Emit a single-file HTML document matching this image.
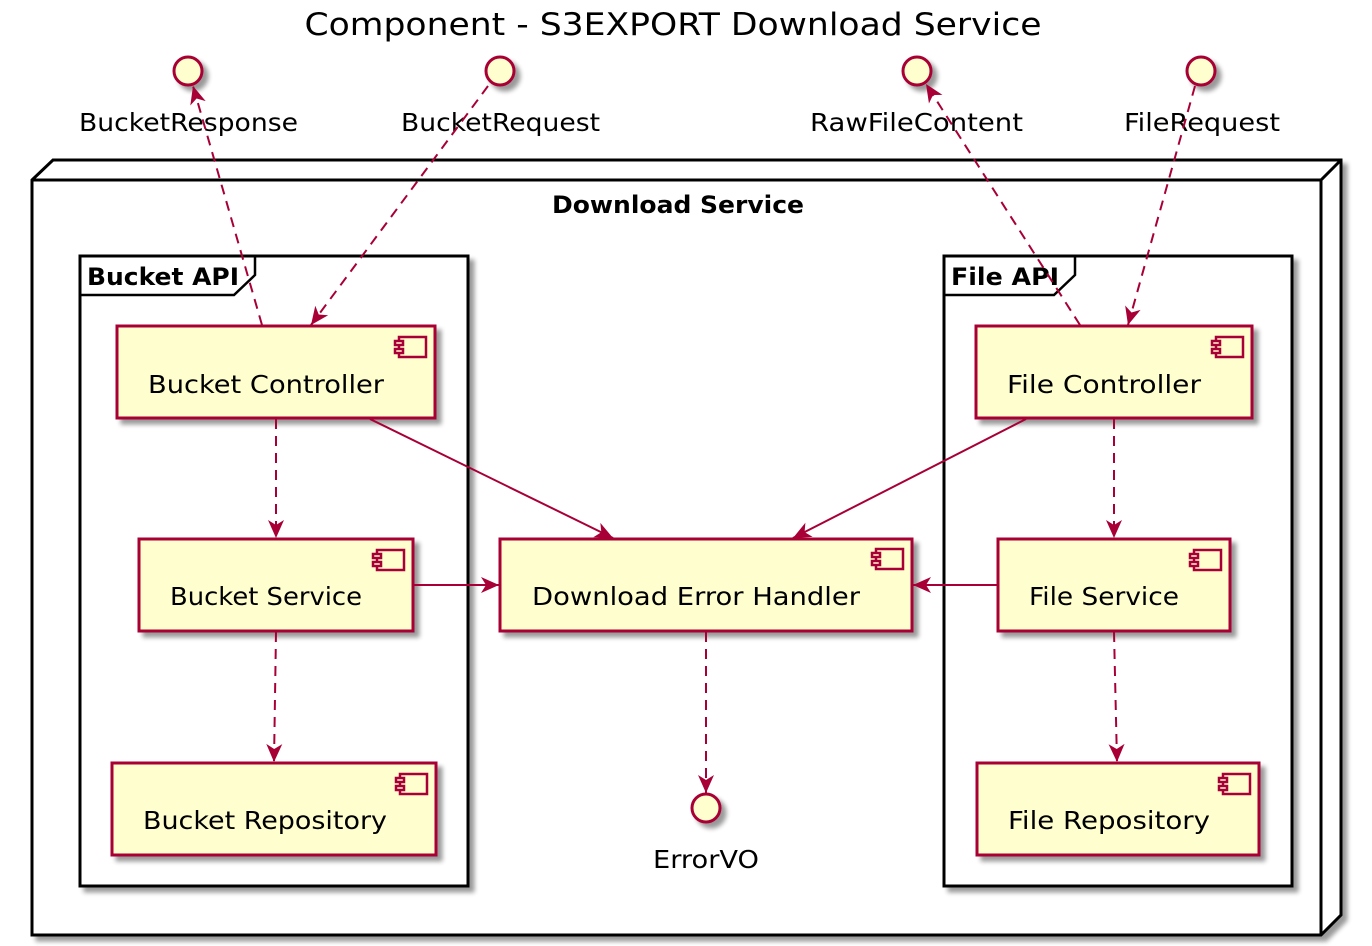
<!DOCTYPE html>
<html><head><meta charset="utf-8"><style>
html,body{margin:0;padding:0;background:#fff;width:1372px;height:946px;overflow:hidden}
svg{display:block}
text{font-family:"DejaVu Sans","Liberation Sans",sans-serif;fill:#000}
</style></head><body>
<svg width="1372" height="946" viewBox="0 0 1372 946" xmlns="http://www.w3.org/2000/svg">
<defs>
<filter id="sh" x="-10%" y="-10%" width="130%" height="130%"><feGaussianBlur in="SourceAlpha" stdDeviation="2.5"/><feOffset dx="5" dy="5"/><feComponentTransfer><feFuncA type="linear" slope="0.4"/></feComponentTransfer><feMerge><feMergeNode/><feMergeNode in="SourceGraphic"/></feMerge></filter>
<marker id="ah" viewBox="0 0 20 20" refX="18" refY="10" markerWidth="20" markerHeight="20" markerUnits="userSpaceOnUse" orient="auto">
<path d="M0,2 L18,10 L0,18 L5,10 Z" fill="#A80036"/>
</marker>
</defs>
<text x="673" y="35" font-size="31" text-anchor="middle" textLength="737" lengthAdjust="spacingAndGlyphs">Component - S3EXPORT Download Service</text>

<!-- node -->
<g filter="url(#sh)">
<path d="M32,180 L53,160 L1341,160 L1341,915 L1321,935 L32,935 Z" fill="#fff" stroke="#000" stroke-width="3"/>
</g>
<path d="M32,180 L1321,180 L1341,160 M1321,180 L1321,935" fill="none" stroke="#000" stroke-width="3"/>
<text x="678" y="213" font-size="24" font-weight="bold" text-anchor="middle" textLength="252" lengthAdjust="spacingAndGlyphs">Download Service</text>

<!-- packages -->
<g filter="url(#sh)">
<rect x="80" y="256" width="388" height="630" fill="#fff" stroke="#000" stroke-width="3"/>
<rect x="944" y="256" width="348" height="630" fill="#fff" stroke="#000" stroke-width="3"/>
</g>
<path d="M80,295 L234,295 L255,275 L255,256" fill="none" stroke="#000" stroke-width="2.5"/>
<text x="87" y="285" font-size="24" font-weight="bold" textLength="152" lengthAdjust="spacingAndGlyphs">Bucket API</text>
<path d="M944,295 L1054,295 L1075,275 L1075,256" fill="none" stroke="#000" stroke-width="2.5"/>
<text x="951" y="285" font-size="24" font-weight="bold" textLength="108" lengthAdjust="spacingAndGlyphs">File API</text>

<!-- components -->
<g fill="#FEFECE" stroke="#A80036" stroke-width="3" filter="url(#sh)">
<rect x="117" y="326" width="318" height="92"/>
<rect x="139" y="539" width="274" height="92"/>
<rect x="112" y="763" width="324" height="92"/>
<rect x="500" y="539" width="412" height="92"/>
<rect x="976" y="326" width="276" height="92"/>
<rect x="998" y="539" width="232" height="92"/>
<rect x="977" y="763" width="282" height="92"/>
<circle cx="188" cy="71" r="14"/>
<circle cx="500" cy="71" r="14"/>
<circle cx="917" cy="71" r="14"/>
<circle cx="1201" cy="71" r="14"/>
<circle cx="706" cy="808" r="14"/>
</g>
<g fill="#FEFECE" stroke="#A80036" stroke-width="2.5">
<g transform="translate(395,337)"><rect x="4" y="0" width="27" height="20"/><rect x="0" y="4" width="8" height="4"/><rect x="0" y="12" width="8" height="4"/></g>
<g transform="translate(373,550)"><rect x="4" y="0" width="27" height="20"/><rect x="0" y="4" width="8" height="4"/><rect x="0" y="12" width="8" height="4"/></g>
<g transform="translate(396,774)"><rect x="4" y="0" width="27" height="20"/><rect x="0" y="4" width="8" height="4"/><rect x="0" y="12" width="8" height="4"/></g>
<g transform="translate(872,549)"><rect x="4" y="0" width="27" height="20"/><rect x="0" y="4" width="8" height="4"/><rect x="0" y="12" width="8" height="4"/></g>
<g transform="translate(1212,337)"><rect x="4" y="0" width="27" height="20"/><rect x="0" y="4" width="8" height="4"/><rect x="0" y="12" width="8" height="4"/></g>
<g transform="translate(1190,550)"><rect x="4" y="0" width="27" height="20"/><rect x="0" y="4" width="8" height="4"/><rect x="0" y="12" width="8" height="4"/></g>
<g transform="translate(1219,774)"><rect x="4" y="0" width="27" height="20"/><rect x="0" y="4" width="8" height="4"/><rect x="0" y="12" width="8" height="4"/></g>
</g>
<g font-size="25" lengthAdjust="spacingAndGlyphs">
<text x="148" y="393" textLength="236" lengthAdjust="spacingAndGlyphs">Bucket Controller</text>
<text x="170" y="605" textLength="192" lengthAdjust="spacingAndGlyphs">Bucket Service</text>
<text x="143" y="829" textLength="244" lengthAdjust="spacingAndGlyphs">Bucket Repository</text>
<text x="532" y="605" textLength="328" lengthAdjust="spacingAndGlyphs">Download Error Handler</text>
<text x="1007" y="393" textLength="194" lengthAdjust="spacingAndGlyphs">File Controller</text>
<text x="1029" y="605" textLength="150" lengthAdjust="spacingAndGlyphs">File Service</text>
<text x="1008" y="829" textLength="202" lengthAdjust="spacingAndGlyphs">File Repository</text>
<text x="79" y="131" textLength="219" lengthAdjust="spacingAndGlyphs">BucketResponse</text>
<text x="401" y="131" textLength="199" lengthAdjust="spacingAndGlyphs">BucketRequest</text>
<text x="810" y="131" textLength="213" lengthAdjust="spacingAndGlyphs">RawFileContent</text>
<text x="1124" y="131" textLength="156" lengthAdjust="spacingAndGlyphs">FileRequest</text>
<text x="653" y="868" textLength="106" lengthAdjust="spacingAndGlyphs">ErrorVO</text>
</g>

<!-- connectors -->
<g stroke="#A80036" stroke-width="2" fill="none">
<g stroke-dasharray="10,7">
<line x1="262" y1="325" x2="193" y2="86" marker-end="url(#ah)"/>
<line x1="488" y1="86" x2="311" y2="325" marker-end="url(#ah)"/>
<line x1="1080" y1="325" x2="926" y2="84" marker-end="url(#ah)"/>
<line x1="1195" y1="86" x2="1128" y2="325" marker-end="url(#ah)"/>
<line x1="276" y1="419" x2="276" y2="538" marker-end="url(#ah)"/>
<line x1="276" y1="632" x2="274" y2="762" marker-end="url(#ah)"/>
<line x1="1114" y1="419" x2="1114" y2="538" marker-end="url(#ah)"/>
<line x1="1114" y1="632" x2="1117" y2="762" marker-end="url(#ah)"/>
<line x1="706" y1="632" x2="706" y2="793" marker-end="url(#ah)"/>
</g>
<line x1="370" y1="419" x2="613" y2="538" marker-end="url(#ah)"/>
<line x1="1026" y1="419" x2="793" y2="538" marker-end="url(#ah)"/>
<line x1="414" y1="585" x2="499" y2="585" marker-end="url(#ah)"/>
<line x1="997" y1="585" x2="913" y2="585" marker-end="url(#ah)"/>
</g>
</svg>
</body></html>
